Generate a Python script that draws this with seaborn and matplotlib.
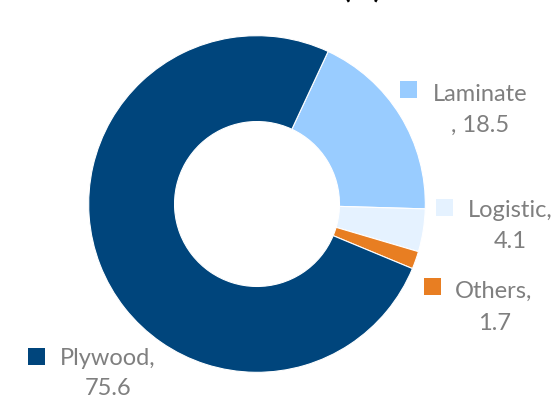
import matplotlib
matplotlib.use("Agg")
import matplotlib.pyplot as plt
from matplotlib.patches import Rectangle
import seaborn as sns

# ================= DATA =================
categories = ["Laminate", "Logistic", "Others", "Plywood"]
shares = [18.5, 4.1, 1.7, 75.6]
colors = ["#99CCFF", "#E5F2FF", "#E87E22", "#00457C"]
# Excel wrapped the comma of "Laminate" onto the second line
comma_wrapped = [True, False, False, False]

# ================= STYLE =================
sns.set_style("white")
plt.rcParams["font.family"] = ["Lato", "DejaVu Sans"]

W, H = 555, 401
fig = plt.figure(figsize=(W / 100, H / 100), dpi=100)

# donut: center (257, 204) px, outer radius 170 px
cx, cy, r = 257, 204, 170
ax = fig.add_axes([(cx - r) / W, (H - cy - r) / H, 2 * r / W, 2 * r / H])
ax.pie(shares, colors=colors, startangle=65, counterclock=False,
       radius=1, wedgeprops=dict(width=0.51, edgecolor="white", linewidth=0.8))
ax.set_xlim(-1.01, 1.01)
ax.set_ylim(-1.01, 1.01)
ax.set_aspect("equal")
ax.axis("off")

# title sits mostly above the canvas, as in the source image
fig.text(362 / W, 1 + 2 / H, "(%)", ha="center", va="baseline",
         fontsize=20, fontweight="bold", color="black")

# data labels with legend keys: (key left, key top, text left, baseline1, center2, baseline2)
label_pos = [
    (400, 81, 433, 101, 480, 132),   # Laminate
    (436, 199, 468, 217, 510, 248),  # Logistic
    (424, 278, 455, 298, 495, 330),  # Others
    (28, 348, 60, 365, 108, 395),    # Plywood
]
gray = "#7F7F7F"
for cat, val, col, wrap, pos in zip(categories, shares, colors, comma_wrapped, label_pos):
    kx, ky, tx, b1, c2, b2 = pos
    fig.add_artist(Rectangle((kx / W, 1 - (ky + 17) / H), 17 / W, 17 / H,
                             transform=fig.transFigure, facecolor=col, edgecolor="none"))
    line1 = cat if wrap else f"{cat},"
    line2 = f", {val}" if wrap else f"{val}"
    fig.text(tx / W, 1 - b1 / H, line1, ha="left", va="baseline", fontsize=17, color=gray)
    fig.text(c2 / W, 1 - b2 / H, line2, ha="center", va="baseline", fontsize=17, color=gray)

fig.savefig("out.png", dpi=100)
